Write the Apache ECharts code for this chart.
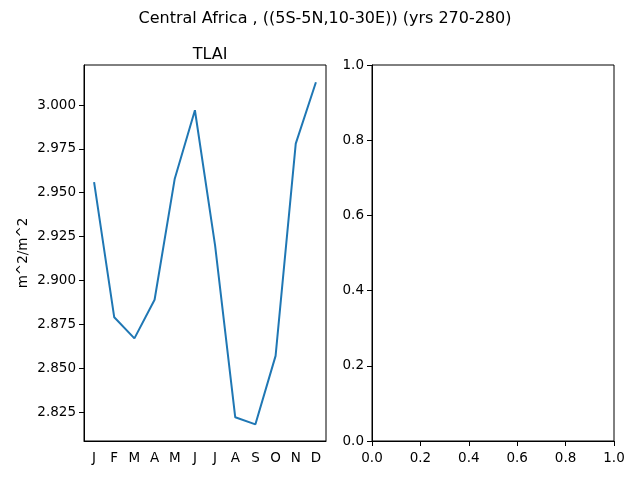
<!DOCTYPE html>
<html><head><meta charset="utf-8">
<script src="https://cdn.jsdelivr.net/npm/echarts@6/dist/echarts.min.js"></script>
<style>html,body{margin:0;padding:0;background:#fff}#c{width:640px;height:480px}</style>
</head><body><div id="c"></div>
<script>
var months = ['J','F','M','A','M','J','J','A','S','O','N','D'];
var tlai = [2.956, 2.879, 2.867, 2.889, 2.958, 2.997, 2.920, 2.822, 2.818, 2.857, 2.978, 3.013];
var leftTicks = [2.825, 2.850, 2.875, 2.900, 2.925, 2.950, 2.975, 3.000];
var rightTicks = [0, 0.2, 0.4, 0.6, 0.8, 1.0];
var suptitle = 'Central Africa , ((5S-5N,10-30E)) (yrs 270-280)';
var axTitle = 'TLAI';
var yName = 'm^2/m^2';

var F = 'DejaVu Sans';
var chart = echarts.init(document.getElementById('c'), null, {renderer:'canvas'});
var lab = {color:'#000', fontFamily:F, fontSize:13.5};
chart.setOption({
  animation:false,
  backgroundColor:'#fff',
  title:[
    {text:suptitle, left:320, top:6, textAlign:'center', textStyle:{fontFamily:F, fontSize:16, fontWeight:'normal', color:'#000'}},
    {text:axTitle, left:205, top:42, textAlign:'center', textStyle:{fontFamily:F, fontSize:16, fontWeight:'normal', color:'#000'}}
  ],
  grid:[
    {left:84, top:65, width:242, height:376, show:true, borderColor:'#000', borderWidth:1, backgroundColor:'transparent'},
    {left:372, top:65, width:242, height:376, show:true, borderColor:'#000', borderWidth:1, backgroundColor:'transparent'}
  ],
  xAxis:[
    {type:'category', gridIndex:0, data:months, boundaryGap:true,
     axisLine:{lineStyle:{color:'#000'}}, axisTick:{alignWithLabel:true, length:5, lineStyle:{color:'#000'}},
     axisLabel:Object.assign({margin:10, interval:0}, lab), splitLine:{show:false}},
    {type:'value', gridIndex:1, min:0, max:1, interval:0.2,
     axisLine:{lineStyle:{color:'#000'}}, axisTick:{length:5, lineStyle:{color:'#000'}},
     axisLabel:Object.assign({margin:10, formatter:function(v){return v.toFixed(1);}}, lab), splitLine:{show:false}}
  ],
  yAxis:[
    {type:'value', gridIndex:0, min:2.8085, max:3.0228, name:yName, nameLocation:'middle', nameGap:54, nameRotate:90,
     nameTextStyle:{fontFamily:F, fontSize:13.5, color:'#000'},
     axisLine:{show:true, lineStyle:{color:'#000'}},
     axisTick:{show:true, length:5, customValues:leftTicks, lineStyle:{color:'#000'}},
     axisLabel:Object.assign({margin:8, customValues:leftTicks, formatter:function(v){return v.toFixed(3);}}, lab),
     splitLine:{show:false}},
    {type:'value', gridIndex:1, min:0, max:1, interval:0.2,
     axisLine:{show:true, lineStyle:{color:'#000'}},
     axisTick:{show:true, length:5, lineStyle:{color:'#000'}},
     axisLabel:Object.assign({margin:8, formatter:function(v){return v.toFixed(1);}}, lab),
     splitLine:{show:false}}
  ],
  series:[
    {type:'line', xAxisIndex:0, yAxisIndex:0, data:tlai, showSymbol:false, symbol:'none',
     lineStyle:{color:'#1f77b4', width:2}, itemStyle:{color:'#1f77b4'}}
  ]
});
</script></body></html>
